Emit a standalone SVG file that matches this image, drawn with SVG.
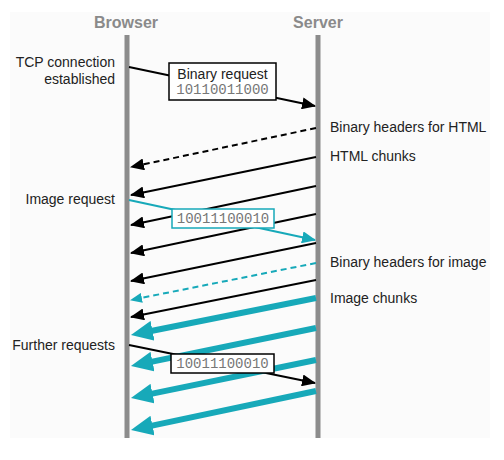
<svg xmlns="http://www.w3.org/2000/svg" width="504" height="460" viewBox="0 0 504 460">
<style>
.hdr{font-family:"Liberation Sans",Arial,sans-serif;font-size:16px;font-weight:bold;fill:#8a8a8a;text-anchor:middle}
.lbl{font-family:"Liberation Sans",Arial,sans-serif;font-size:14px;fill:#222}
.lft{text-anchor:end}
.mono{font-family:"Liberation Mono","Courier New",monospace;font-size:14px;fill:#777;text-anchor:middle}
.life{stroke:#8c8c8c;stroke-width:5}
.blk{stroke:#000;stroke-width:2;fill:none}
.cy{stroke:#17a9b9;stroke-width:2;fill:none}
.cyt{stroke:#17a9b9;stroke-width:6;fill:none}
.dash{stroke-dasharray:6,4}
.box{fill:#fff;stroke-width:1.5}
</style>
<defs>
<marker id="ab" markerUnits="userSpaceOnUse" markerWidth="14" markerHeight="12" viewBox="0 0 14 12" refX="13" refY="6" orient="auto"><path d="M0,0 L14,6 L0,12 z" fill="#000"/></marker>
<marker id="ac" markerUnits="userSpaceOnUse" markerWidth="14" markerHeight="12" viewBox="0 0 14 12" refX="13" refY="6" orient="auto"><path d="M0,0 L14,6 L0,12 z" fill="#17a9b9"/></marker>
<marker id="acs" markerUnits="userSpaceOnUse" markerWidth="12" markerHeight="10" viewBox="0 0 12 10" refX="11" refY="5" orient="auto"><path d="M0,0 L12,5 L0,10 z" fill="#17a9b9"/></marker>
<marker id="act" markerUnits="userSpaceOnUse" markerWidth="22" markerHeight="20" viewBox="0 0 22 20" refX="4" refY="10" orient="auto"><path d="M0,0 L22,10 L0,20 z" fill="#17a9b9"/></marker>
</defs>
<rect x="10" y="12" width="480" height="426" fill="#fbfbfb"/>
<g id="browser">
<text class="hdr" x="126" y="28">Browser</text>
<line class="life" x1="127" y1="35" x2="127" y2="438"/>
</g>
<g id="server">
<text class="hdr" x="318" y="28">Server</text>
<line class="life" x1="318" y1="35" x2="318" y2="438"/>
</g>
<g id="labels">
<text class="lbl lft" x="115" y="67">TCP connection</text>
<text class="lbl lft" x="115" y="84">established</text>
<text class="lbl lft" x="115" y="204">Image request</text>
<text class="lbl lft" x="115" y="350">Further requests</text>
<text class="lbl" x="330" y="132">Binary headers for HTML</text>
<text class="lbl" x="330" y="161">HTML chunks</text>
<text class="lbl" x="330" y="267">Binary headers for image</text>
<text class="lbl" x="330" y="303">Image chunks</text>
</g>
<g id="connectors">
<path class="blk" d="M129,67 L315,106" marker-end="url(#ab)"/>
<path class="blk dash" d="M316,128 L131,167" marker-end="url(#ab)"/>
<path class="blk" d="M316,157 L131,195" marker-end="url(#ab)"/>
<path class="blk" d="M316,186 L131,225" marker-end="url(#ab)"/>
<path class="cy" d="M129,200 L315,240" marker-end="url(#ac)"/>
<path class="blk" d="M316,214 L131,253" marker-end="url(#ab)"/>
<path class="blk" d="M316,243 L131,281" marker-end="url(#ab)"/>
<path class="cy dash" d="M316,263 L131,300" marker-end="url(#acs)"/>
<path class="blk" d="M316,280 L131,317" marker-end="url(#ab)"/>
<path class="cyt" d="M316,298 L148.6,331.5" marker-end="url(#act)"/>
<path class="cyt" d="M316,328 L148.6,362.4" marker-end="url(#act)"/>
<path class="blk" d="M129,345 L315,383" marker-end="url(#ab)"/>
<path class="cyt" d="M316,360 L148.6,394.4" marker-end="url(#act)"/>
<path class="cyt" d="M316,391 L148.6,426.4" marker-end="url(#act)"/>
</g>
<g id="box-binary-request">
<rect class="box" x="169" y="63" width="107" height="37" stroke="#000"/>
<text class="lbl" x="222.5" y="79" text-anchor="middle">Binary request</text>
<text class="mono" x="222.5" y="94">10110011000</text>
</g>
<g id="box-image-request">
<rect class="box" x="172" y="209" width="102" height="19" stroke="#17a9b9"/>
<text class="mono" x="223" y="223">10011100010</text>
</g>
<g id="box-further-request">
<rect class="box" x="171" y="354" width="103" height="19" stroke="#000"/>
<text class="mono" x="222.5" y="368">10011100010</text>
</g>
</svg>
